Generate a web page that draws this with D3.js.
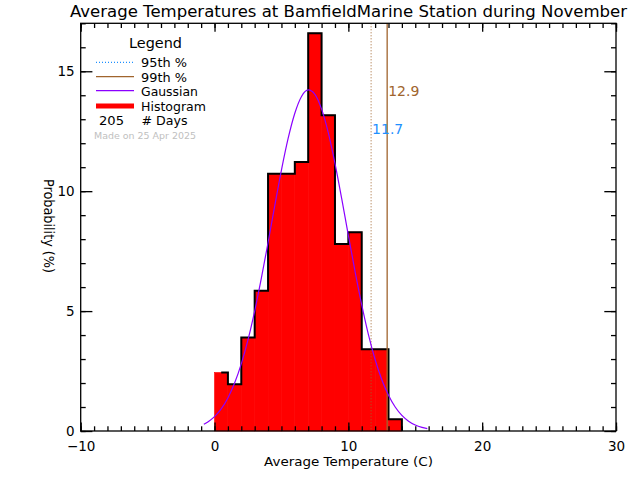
<!DOCTYPE html>
<html>
<head>
<meta charset="utf-8">
<script src="https://cdn.jsdelivr.net/npm/d3@7"></script>
<style>
  body { margin: 0; background: #fff; }
  svg { display: block; font-family: "DejaVu Sans", sans-serif; }
</style>
</head>
<body>
<svg></svg>
<script>
// histogram bins (left edge, degrees C) and probability (%)
let binStarts = [0, 1, 2, 3, 4, 5, 6, 7, 8, 9, 10, 11, 12, 13]
let binValues = [2.44, 1.95, 3.90, 5.85, 10.73, 10.73, 11.22, 16.59, 13.17, 7.80, 8.29, 3.41, 3.41, 0.49]

// gaussian curve
let gaussX = [-0.8, -0.5, 0, 0.5, 1, 1.5, 2, 2.5, 3, 3.5, 4, 4.5, 5, 5.5, 6, 6.5, 7, 7.5, 8, 8.5,
              9, 9.5, 10, 10.5, 11, 11.5, 12, 12.5, 13, 13.5, 14, 14.5, 15, 15.5, 15.9]
let gaussY = [0.28, 0.38, 0.60, 0.92, 1.38, 2.00, 2.80, 3.80, 5.00, 6.37, 7.86, 9.39, 10.88, 12.20, 13.25, 13.95, 14.22, 14.04, 13.42, 12.44,
              11.16, 9.70, 8.16, 6.66, 5.26, 4.02, 2.98, 2.14, 1.49, 1.00, 0.65, 0.41, 0.25, 0.15, 0.10]

let p95 = 11.7
let p99 = 12.9
let nDays = 205

let xTicks = [-10, 0, 10, 20, 30]
let yTicks = [0, 5, 10, 15]

let width = 640
let height = 480
let plotLeft = 80.7, plotRight = 616, plotTop = 23.3, plotBottom = 431

let brown = "#a0642d"
let blue = "#1e90ff"
let purple = "#8a00ff"

let svg = d3.select("svg").attr("width", width).attr("height", height)

let x = d3.scaleLinear().domain([-10, 30]).range([plotLeft, plotRight])
let y = d3.scaleLinear().domain([0, 17]).range([plotBottom, plotTop])

// histogram fill
svg.append("g").selectAll("rect")
    .data(binStarts)
    .enter()
    .append("rect")
    .attr("x", (d) => x(d))
    .attr("width", (d) => x(d + 1) - x(d))
    .attr("y", (d, i) => y(binValues[i]))
    .attr("height", (d, i) => y(0) - y(binValues[i]))
    .attr("fill", "#ff0000")
    .attr("stroke", "#ff0000")
    .attr("stroke-width", 0.6)

// histogram outline (IDL style step, starts at first bin centre)
let stepPts = [[binStarts[0] + 0.5, binValues[0]]]
binStarts.forEach((d, i) => { if (i > 0) stepPts.push([d, binValues[i]]) })
let last = binStarts.length - 1
stepPts.push([binStarts[last] + 1, binValues[last]])
stepPts.push([binStarts[last] + 1, 0])

svg.append("path")
    .datum(stepPts)
    .attr("fill", "none")
    .attr("stroke", "#000")
    .attr("stroke-width", 2)
    .attr("d", d3.line().x((d) => x(d[0])).y((d) => y(d[1])).curve(d3.curveStepAfter))

// percentile lines
svg.append("line")
    .attr("x1", x(p95)).attr("x2", x(p95))
    .attr("y1", y(17)).attr("y2", y(0))
    .attr("stroke", brown).attr("stroke-width", 1)
    .attr("stroke-dasharray", "1,2")

svg.append("line")
    .attr("x1", x(p99)).attr("x2", x(p99))
    .attr("y1", y(17)).attr("y2", y(0))
    .attr("stroke", brown).attr("stroke-width", 1.3)

// gaussian
svg.append("path")
    .datum(gaussX.map((d, i) => [d, gaussY[i]]))
    .attr("fill", "none")
    .attr("stroke", purple)
    .attr("stroke-width", 1.2)
    .attr("d", d3.line().x((d) => x(d[0])).y((d) => y(d[1])).curve(d3.curveMonotoneX))

// percentile labels
svg.append("text")
    .attr("x", x(p99) + 1).attr("y", 96)
    .attr("font-size", 14).attr("fill", brown)
    .text(p99.toFixed(1))

svg.append("text")
    .attr("x", x(p95) + 1).attr("y", 134)
    .attr("font-size", 14).attr("fill", blue)
    .text(p95.toFixed(1))

// axes
let minorX = d3.range(-10, 31, 1)
let minorY = d3.range(0, 18, 1)

let styleAxis = (g) => {
    g.select(".domain").remove()
    g.selectAll("line").attr("stroke", "#000").attr("stroke-width", 1.3)
}

svg.append("g").attr("transform", "translate(0," + plotBottom + ")")
    .call(d3.axisBottom(x).tickValues(minorX).tickSize(-4.7).tickFormat(""))
    .call(styleAxis)
svg.append("g").attr("transform", "translate(0," + plotBottom + ")")
    .call(d3.axisBottom(x).tickValues(xTicks).tickSize(-8.5).tickPadding(10))
    .call(styleAxis)
svg.append("g").attr("transform", "translate(0," + plotTop + ")")
    .call(d3.axisTop(x).tickValues(minorX).tickSize(-4.7).tickFormat(""))
    .call(styleAxis)
svg.append("g").attr("transform", "translate(0," + plotTop + ")")
    .call(d3.axisTop(x).tickValues(xTicks).tickSize(-8.5).tickFormat(""))
    .call(styleAxis)

svg.append("g").attr("transform", "translate(" + plotLeft + ",0)")
    .call(d3.axisLeft(y).tickValues(minorY).tickSize(-5).tickFormat(""))
    .call(styleAxis)
svg.append("g").attr("transform", "translate(" + plotLeft + ",0)")
    .call(d3.axisLeft(y).tickValues(yTicks).tickSize(-11.7).tickPadding(6))
    .call(styleAxis)
svg.append("g").attr("transform", "translate(" + plotRight + ",0)")
    .call(d3.axisRight(y).tickValues(minorY).tickSize(-5).tickFormat(""))
    .call(styleAxis)
svg.append("g").attr("transform", "translate(" + plotRight + ",0)")
    .call(d3.axisRight(y).tickValues(yTicks).tickSize(-11.7).tickFormat(""))
    .call(styleAxis)

svg.selectAll(".tick text")
    .attr("font-size", 13.5)
    .attr("font-family", "DejaVu Sans, sans-serif")
    .attr("fill", "#000")

// frame
svg.append("rect")
    .attr("x", plotLeft).attr("y", plotTop)
    .attr("width", plotRight - plotLeft).attr("height", plotBottom - plotTop)
    .attr("fill", "none").attr("stroke", "#000").attr("stroke-width", 1.3)

// titles
svg.append("text")
    .attr("x", 348.5).attr("y", 17)
    .attr("text-anchor", "middle").attr("font-size", 16)
    .attr("textLength", 557).attr("lengthAdjust", "spacingAndGlyphs")
    .text("Average Temperatures at BamfieldMarine Station during November")

svg.append("text")
    .attr("x", 348.5).attr("y", 466)
    .attr("text-anchor", "middle").attr("font-size", 13)
    .attr("textLength", 169).attr("lengthAdjust", "spacingAndGlyphs")
    .text("Average Temperature (C)")

svg.append("text")
    .attr("transform", "translate(44,226) rotate(90)")
    .attr("text-anchor", "middle").attr("font-size", 14)
    .attr("textLength", 94).attr("lengthAdjust", "spacingAndGlyphs")
    .text("Probability (%)")

// legend
let legend = svg.append("g")
legend.append("text")
    .attr("x", 155.5).attr("y", 47.5)
    .attr("text-anchor", "middle").attr("font-size", 14)
    .attr("textLength", 53).attr("lengthAdjust", "spacingAndGlyphs")
    .text("Legend")

let legendRows = [
    { label: "95th %", y: 62.3, color: blue, dash: "1,2", w: 1.2, tw: 46 },
    { label: "99th %", y: 76.7, color: brown, dash: null, w: 1.3, tw: 46 },
    { label: "Gaussian", y: 90.7, color: purple, dash: null, w: 1.3, tw: 57 },
    { label: "Histogram", y: 106, color: "#ff0000", dash: null, w: 5, tw: 65 }
]
legendRows.forEach((r) => {
    legend.append("line")
        .attr("x1", 96).attr("x2", 134)
        .attr("y1", r.y).attr("y2", r.y)
        .attr("stroke", r.color).attr("stroke-width", r.w)
        .attr("stroke-dasharray", r.dash)
    legend.append("text")
        .attr("x", 141).attr("y", r.y + 5)
        .attr("font-size", 12.5)
        .attr("textLength", r.tw).attr("lengthAdjust", "spacingAndGlyphs")
        .text(r.label)
})

legend.append("text")
    .attr("x", 99).attr("y", 125)
    .attr("font-size", 12.5)
    .attr("textLength", 25).attr("lengthAdjust", "spacingAndGlyphs")
    .text(nDays)
legend.append("text")
    .attr("x", 141.5).attr("y", 125)
    .attr("font-size", 12.5)
    .attr("textLength", 46).attr("lengthAdjust", "spacingAndGlyphs")
    .text("# Days")

legend.append("text")
    .attr("x", 94).attr("y", 138.5)
    .attr("font-size", 9).attr("fill", "#c0c0c0")
    .attr("textLength", 102).attr("lengthAdjust", "spacingAndGlyphs")
    .text("Made on 25 Apr 2025")
</script>
</body>
</html>
